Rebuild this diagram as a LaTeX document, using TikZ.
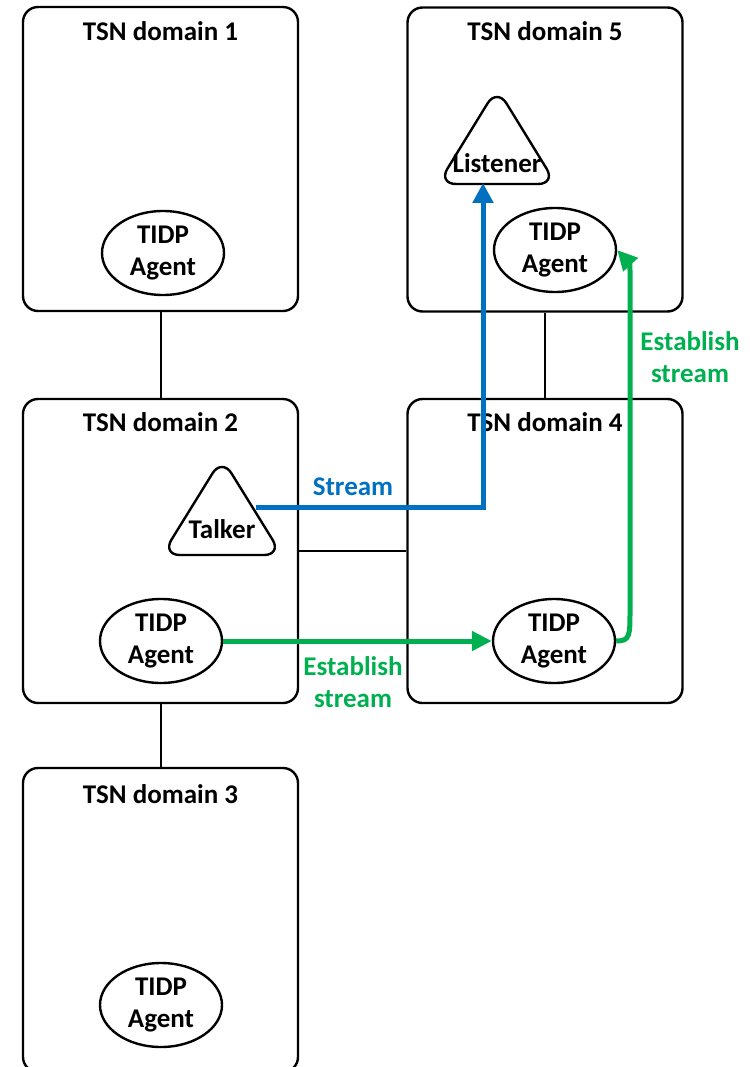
\documentclass[tikz,border=0pt]{standalone}
\usepackage{fontspec}
\setmainfont{Carlito}
\usetikzlibrary{arrows.meta,shapes.geometric}
\definecolor{sblue}{RGB}{0,112,192}
\definecolor{sgreen}{RGB}{0,176,80}
\begin{document}
\begin{tikzpicture}[x=1pt,y=-1pt,
  tsnbox/.style={draw,line width=2.4pt,rounded corners=15pt,minimum width=275pt,minimum height=304pt,inner sep=0pt},
  dtitle/.style={font=\fontsize{27}{30}\selectfont\bfseries,inner sep=0pt},
  agent/.style={draw,ellipse,line width=2.4pt,minimum width=122pt,minimum height=84pt,inner sep=0pt,align=center,font=\fontsize{27}{32}\selectfont\bfseries},
  tri/.style={draw,line width=2.4pt,rounded corners=18pt,line join=round},
  trilabel/.style={font=\fontsize{27}{30}\selectfont\bfseries,inner sep=0pt},
  link/.style={line width=2pt},
  bluearrow/.style={draw=sblue,line width=5pt,-{Triangle[length=20pt,width=20pt]}},
  greenarrow/.style={draw=sgreen,line width=5pt,-{Triangle[length=20pt,width=19pt]}},
  blabel/.style={text=sblue,font=\fontsize{27}{32}\selectfont\bfseries,inner sep=0pt,align=center},
  glabel/.style={text=sgreen,font=\fontsize{27}{32}\selectfont\bfseries,inner sep=0pt,align=center}
]
\useasboundingbox (0,0) rectangle (749,1067);
\clip (0,0) rectangle (749,1067);
% domains
\node[tsnbox] (d1) at (160.5,159) {};
\node[tsnbox] (d5) at (545,159.5) {};
\node[tsnbox] (d2) at (160.5,551) {};
\node[tsnbox] (d4) at (545,551) {};
\node[tsnbox] (d3) at (160.5,920) {};
% titles
\node[dtitle] (t1) at (160.5,31) {TSN domain 1};
\node[dtitle] (t5) at (545,31) {TSN domain 5};
\node[dtitle] (t2) at (160.5,422) {TSN domain 2};
\node[dtitle] (t4) at (545,422) {TSN domain 4};
\node[dtitle] (t3) at (160.5,794) {TSN domain 3};
% links between domains
\draw[link] (d1.south) -- (d2.north);
\draw[link] (d2.south) -- (d3.north);
\draw[link] (d5.south) -- (d4.north);
\draw[link] (d2.east) -- (d4.west);
% agents
\node[agent] (a1) at (163,253) {TIDP\\Agent};
\node[agent] (a5) at (555,250) {TIDP\\Agent};
\node[agent] (a2) at (161,641) {TIDP\\Agent};
\node[agent] (a4) at (554,641) {TIDP\\Agent};
\node[agent] (a3) at (161,1005) {TIDP\\Agent};
% talker and listener
\draw[tri] (222,458) -- (282,555) -- (162,555) -- cycle;
\node[trilabel] (talker) at (222,529) {Talker};
\draw[tri] (497,88) -- (556,184) -- (438,184) -- cycle;
\node[trilabel] (listener) at (497,163) {Listener};
\coordinate (tkout) at (256,507);
\coordinate (lsin) at (483,183);
% stream
\draw[bluearrow] (tkout) -| (lsin);
\node[blabel] (lstream) at (353,487) {Stream};
% establish stream
\draw[greenarrow] (a2.east) -- (a4.west);
\node[glabel] (lest1) at (353,682) {Establish\\stream};
\draw[greenarrow] (a4.east) .. controls (630,641) and (630,636) .. (630,610) -- (630,292) .. controls (630,264) .. (a5.east);
\node[glabel] (lest2) at (690,357) {Establish\\stream};
\end{tikzpicture}
\end{document}
